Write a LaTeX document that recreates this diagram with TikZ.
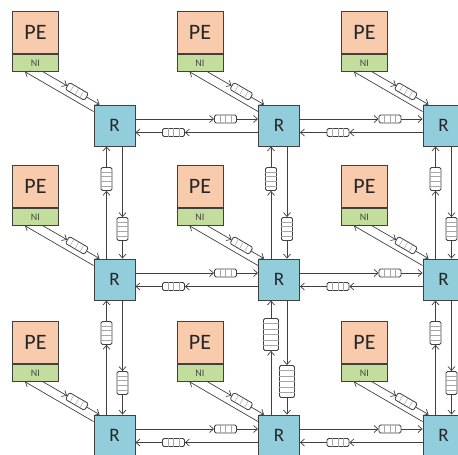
\documentclass[tikz,border=0pt]{standalone}
\usepackage{fontspec}
\setmainfont{Carlito}
\usetikzlibrary{arrows.meta,calc}
\definecolor{peFill}{HTML}{F8CBAD}
\definecolor{niFill}{HTML}{C3DD9C}
\definecolor{rFill}{HTML}{92CDDC}
\definecolor{edge}{HTML}{404040}
\definecolor{ink}{HTML}{262626}
\tikzset{
  router/.style={draw=edge, fill=rFill, line width=0.9pt, minimum size=41pt,
    inner sep=0pt, text=ink, font=\fontsize{19}{19}\selectfont},
  pebox/.style={draw=edge, fill=peFill, line width=0.9pt, minimum width=46pt,
    minimum height=42pt, inner sep=0pt, anchor=north west, text=ink,
    font=\fontsize{22}{22}\selectfont},
  nibox/.style={draw=edge, fill=niFill, line width=0.9pt, minimum width=46pt,
    minimum height=17pt, inner sep=0pt, anchor=north west, text=ink!85,
    font=\fontsize{10}{10}\selectfont},
  link/.style={draw=edge, line width=0.7pt, -{Straight Barb[length=4pt,width=7pt]}},
  fifo/.style={draw=edge, fill=white, line width=0.8pt, rounded corners=1.5pt,
    inner sep=0pt, minimum width=22pt, minimum height=8pt},
  vfifo/.style={fifo, rotate=90, minimum width=23pt, minimum height=11pt},
  bigfifo/.style={fifo, rotate=90, minimum width=32pt, minimum height=15pt},
  cell/.style={draw=black!35, line width=0.5pt},
}
% slot dividers inside a buffer node: #1 = node name, #2 = number of slots
\newcommand\fifoslots[2]{%
  \pgfmathtruncatemacro\lastslot{#2-1}%
  \foreach \k in {1,...,\lastslot}{%
    \pgfmathsetmacro\frac{\k/#2}%
    \draw[cell] ($(#1.north west)!\frac!(#1.north east)$) --
                ($(#1.south west)!\frac!(#1.south east)$);
  }%
}
\begin{document}
\begin{tikzpicture}[x=1pt,y=-1pt]
\useasboundingbox (0,0) rectangle (458,455);

% routers, processing elements and network interfaces
\foreach \c/\x in {1/114.5,2/279,3/443.5}{
  \foreach \r/\y in {1/125.5,2/279.5,3/435.5}{
    \node[router] (R\c\r) at (\x,\y) {R};
    \node[pebox] (PE\c\r) at (\x-102.5,\y-114.5) {PE};
    \node[nibox] (NI\c\r) at (PE\c\r.south west) {NI};
    % NI <-> router
    \coordinate (ds\c\r) at ($(NI\c\r.south west)+(31,0)$);
    \coordinate (de\c\r) at ($(R\c\r.north west)+(6,0)$);
    \path (ds\c\r) -- node[fifo, sloped, pos=0.6] (DB\c\r) {} (de\c\r);
    \fifoslots{DB\c\r}{4}
    \draw[link] (ds\c\r) -- (DB\c\r);
    \draw[link] (DB\c\r) -- (de\c\r);
    \coordinate (us\c\r) at ($(R\c\r.north west)+(0,7)$);
    \coordinate (ue\c\r) at ($(NI\c\r.south west)+(13,0)$);
    \draw[link] (us\c\r) -- (ue\c\r);
  }
}

% horizontal router links
\foreach \c/\n in {1/2,2/3}{
  \foreach \r in {1,2,3}{
    % eastbound
    \coordinate (es\c\r) at ($(R\c\r.east)+(0,-6.5)$);
    \coordinate (ee\c\r) at ($(R\n\r.west)+(0,-6.5)$);
    \node[fifo] (EB\c\r) at ($(R\c\r.east)+(90,-6.5)$) {};
    \fifoslots{EB\c\r}{4}
    \draw[link] (es\c\r) -- (EB\c\r);
    \draw[link] (EB\c\r) -- (ee\c\r);
    % westbound
    \coordinate (ws\c\r) at ($(R\n\r.west)+(0,7)$);
    \coordinate (we\c\r) at ($(R\c\r.east)+(0,7)$);
    \node[fifo] (WB\c\r) at ($(R\c\r.east)+(38,7)$) {};
    \fifoslots{WB\c\r}{4}
    \draw[link] (ws\c\r) -- (WB\c\r);
    \draw[link] (WB\c\r) -- (we\c\r);
  }
}

% vertical router links
\foreach \c in {1,2,3}{
  \foreach \r/\n in {1/2,2/3}{
    % northbound
    \coordinate (ns\c\r) at ($(R\c\n.north)+(-8,0)$);
    \coordinate (ne\c\r) at ($(R\c\r.south)+(-8,0)$);
    % southbound
    \coordinate (ss\c\r) at ($(R\c\r.south)+(8,0)$);
    \coordinate (se\c\r) at ($(R\c\n.north)+(8,0)$);
  }
}
\foreach \c/\r in {1/1,2/1,3/1,1/2,3/2}{
  \node[vfifo] (NB\c\r) at ($(ne\c\r)+(0,32.5)$) {};
  \fifoslots{NB\c\r}{5}
  \node[vfifo] (SB\c\r) at ($(ss\c\r)+(0,82.5)$) {};
  \fifoslots{SB\c\r}{5}
}
\node[bigfifo] (NB22) at ($(ne22)+(0,34)$) {};
\fifoslots{NB22}{6}
\node[bigfifo] (SB22) at ($(ss22)+(0,81)$) {};
\fifoslots{SB22}{6}
\foreach \c in {1,2,3}{
  \foreach \r in {1,2}{
    \draw[link] (ns\c\r) -- (NB\c\r);
    \draw[link] (NB\c\r) -- (ne\c\r);
    \draw[link] (ss\c\r) -- (SB\c\r);
    \draw[link] (SB\c\r) -- (se\c\r);
  }
}
\end{tikzpicture}
\end{document}
